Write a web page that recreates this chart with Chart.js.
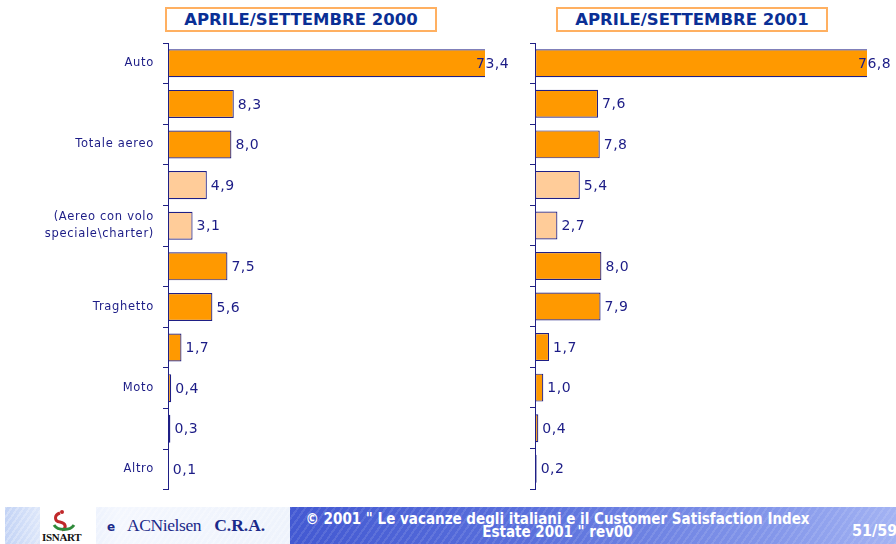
<!DOCTYPE html>
<html>
<head>
<meta charset="utf-8">
<script src="https://cdn.jsdelivr.net/npm/chart.js@4/dist/chart.umd.min.js"></script>
<style>
  html,body{margin:0;padding:0;background:#fff;}
  body{width:896px;height:544px;position:relative;overflow:hidden;font-family:"DejaVu Sans",Verdana,sans-serif;}
  .title{position:absolute;top:7px;height:21px;border:2px solid #ffb061;color:#0a2f95;font-weight:bold;font-size:16.5px;line-height:21px;text-align:center;box-sizing:content-box;}
  #c1wrap{position:absolute;left:0;top:0;width:520px;height:507px;}
  #c2wrap{position:absolute;left:440px;top:0;width:456px;height:500px;}
  #footer{position:absolute;left:5px;top:507px;width:891px;height:37px;}
  #fleft{position:absolute;left:0;top:0;width:285px;height:37px;
    background:repeating-linear-gradient(125deg,rgba(255,255,255,0.25) 0 2px,rgba(255,255,255,0) 2px 5px),linear-gradient(90deg,#c3d3f5 0%,#dde7fa 12%,#f4f7fe 40%,#eef3fc 100%);}
  #fright{position:absolute;left:285px;top:0;width:606px;height:37px;
    background:repeating-linear-gradient(125deg,rgba(255,255,255,0.10) 0 2px,rgba(255,255,255,0) 2px 6px),linear-gradient(90deg,#4359d2 0%,#5a70dc 40%,#8497ea 80%,#a3b3f3 100%);}
  #logobox{position:absolute;left:35px;top:0;width:56px;height:37px;background:#fff;}
  #isnart{position:absolute;left:37px;top:24px;font-family:"Liberation Serif",serif;font-weight:bold;font-size:11px;color:#111;letter-spacing:-0.3px;}
  #e{position:absolute;left:102px;top:13px;font-weight:bold;font-size:12px;color:#1b2a8a;}
  #acn{position:absolute;left:122px;top:8px;font-family:"Liberation Serif",serif;font-size:17.5px;color:#1b2a8a;letter-spacing:-0.4px;}
  #acn b{margin-left:9px;letter-spacing:0;}
  #ftext{position:absolute;left:295px;top:6px;width:515px;color:#fff;font-family:"DejaVu Sans Condensed","DejaVu Sans",sans-serif;font-weight:bold;font-size:15px;line-height:12.5px;text-align:center;}
  #page{position:absolute;left:847px;top:14px;color:#fff;font-family:"DejaVu Sans Condensed","DejaVu Sans",sans-serif;font-weight:bold;font-size:16px;white-space:nowrap;}
</style>
</head>
<body>
<div class="title" style="left:165px;width:268px;">APRILE/SETTEMBRE 2000</div>
<div class="title" style="left:556px;width:268px;">APRILE/SETTEMBRE 2001</div>
<div id="c1wrap"><canvas id="c1" width="520" height="507"></canvas></div>
<div id="c2wrap"><canvas id="c2" width="456" height="500"></canvas></div>
<div id="footer">
  <div id="fleft"></div>
  <div id="fright"></div>
  <div id="logobox">
    <svg width="56" height="26" style="position:absolute;left:0;top:0">
      <path d="M20 6 C14 8 14 14 20 15 C26 16 27 21 22 23" stroke="#c0282a" stroke-width="3" fill="none"/>
      <path d="M14 18 C18 24 30 24 34 18" stroke="#2f8a3a" stroke-width="3" fill="none"/>
      <circle cx="22" cy="5" r="2" fill="#c0282a"/>
    </svg>
  </div>
  <div id="isnart">ISNART</div>
  <div id="e">e</div>
  <div id="acn">ACNielsen <b>C.R.A.</b></div>
  <div id="ftext">© 2001 " Le vacanze degli italiani e il Customer Satisfaction Index<br>Estate 2001 " rev00</div>
  <div id="page">51/59</div>
</div>
<script>
// ---- Data ----
const categories = ["Auto", "", "Totale aereo", "", ["(Aereo con volo", "speciale\\charter)"], "", "Traghetto", "", "Moto", "", "Altro"];
const values2000 = [73.4, 8.3, 8.0, 4.9, 3.1, 7.5, 5.6, 1.7, 0.4, 0.3, 0.1];
const values2001 = [76.8, 7.6, 7.8, 5.4, 2.7, 8.0, 7.9, 1.7, 1.0, 0.4, 0.2];
const lightBars = [3, 4];
const axisMax = 40;

const ORANGE = '#ff9900', LIGHT = '#ffcc99', NAVY = '#1f1f85', TEXT = '#1c1c86';

function fmt(v){ return v.toFixed(1).replace('.', ','); }

const spacingPlugin = {
  id: 'spacing',
  beforeLayout(chart){ chart.ctx.letterSpacing = '0.7px'; },
  beforeDraw(chart){ chart.ctx.letterSpacing = '0.7px'; }
};

const valueLabels = {
  id: 'valueLabels',
  afterDatasetsDraw(chart){
    const ctx = chart.ctx;
    const meta = chart.getDatasetMeta(0);
    const data = chart.data.datasets[0].data;
    const area = chart.chartArea;
    ctx.save();
    ctx.letterSpacing = '0.5px';
    ctx.font = '14px "DejaVu Sans", Verdana, sans-serif';
    ctx.fillStyle = TEXT;
    ctx.textAlign = 'left';
    ctx.textBaseline = 'middle';
    meta.data.forEach((bar, i) => {
      const v = data[i];
      let x = bar.x + 4;
      if (v > axisMax) x = area.right - 9;
      ctx.fillText(fmt(v), x, bar.y + 1);
    });
    ctx.restore();
  }
};

function makeChart(id, values, showLabels, yWidth, padRight, padBottom){
  const colors = values.map((v, i) => lightBars.includes(i) ? LIGHT : ORANGE);
  return new Chart(document.getElementById(id), {
    type: 'bar',
    data: {
      labels: categories,
      datasets: [{
        data: values,
        backgroundColor: colors,
        borderColor: NAVY,
        borderWidth: 1.2,
        borderSkipped: false,
        barPercentage: 0.69,
        categoryPercentage: 1.0
      }]
    },
    options: {
      indexAxis: 'y',
      responsive: false,
      animation: false,
      layout: { padding: { top: 43, bottom: padBottom, right: padRight, left: 0 } },
      plugins: { legend: { display: false }, tooltip: { enabled: false } },
      scales: {
        x: { display: false, min: 0, max: axisMax },
        y: {
          afterFit(scale){ scale.width = yWidth; },
          border: { display: true, color: NAVY, width: 1 },
          grid: { display: true, drawOnChartArea: false, drawTicks: true, tickLength: 5, color: NAVY, offset: true },
          ticks: {
            display: showLabels,
            autoSkip: false,
            padding: 9,
            color: TEXT,
            font: { family: '"DejaVu Sans", Verdana, sans-serif', size: 11.5, lineHeight: 1.45 }
          }
        }
      }
    },
    plugins: [spacingPlugin, valueLabels]
  });
}

makeChart('c1', values2000, true, 168, 35, 4);
makeChart('c2', values2001, false, 95, 29, 11);
</script>
</body>
</html>
